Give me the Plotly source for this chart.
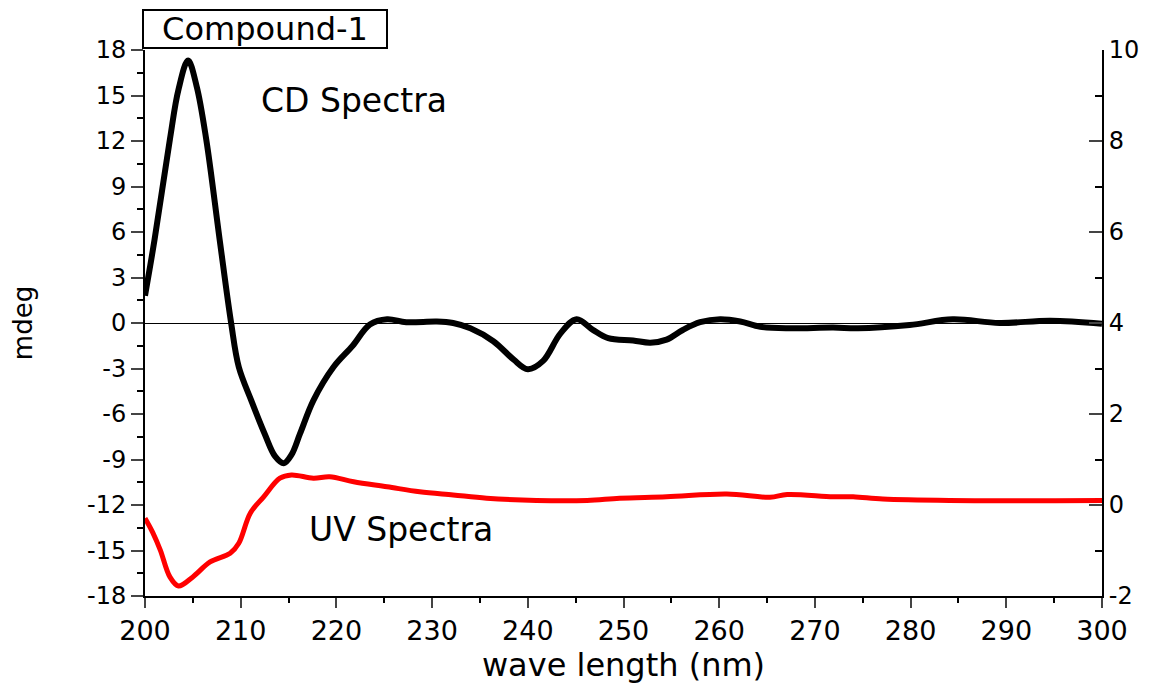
import plotly.graph_objects as go

# CD spectrum (mdeg, left axis)
cd_wl = [200.0, 201.0, 202.6, 203.5, 204.5, 205.4, 206.4, 207.8, 209.0, 209.8, 211.1, 212.5, 213.6,
         214.5, 215.3, 216.2, 217.6, 219.7, 221.7, 223.5, 225.3, 227.3, 230.5, 232.2, 234.0,
         236.4, 238.5, 240.0, 241.6, 243.4, 245.1, 246.8, 248.4, 251.0, 252.8, 254.5, 256.2, 258.0,
         260.1, 262.2, 264.3, 267.4, 271.9, 274.5, 279.9, 284.4, 289.3, 294.6, 300.0]
cd_val = [1.8, 5.5, 12.1, 15.4, 17.3, 15.6, 12.1, 5.5, 0.0, -2.9, -5.1, -7.3, -8.8,
          -9.25, -8.7, -7.3, -5.1, -2.9, -1.5, -0.1, 0.25, 0.05, 0.1, 0.0, -0.35,
          -1.2, -2.4, -3.05, -2.5, -0.7, 0.25, -0.45, -1.0, -1.15, -1.3, -1.1, -0.46, 0.05,
          0.25, 0.1, -0.25, -0.35, -0.3, -0.35, -0.13, 0.24, 0.0, 0.15, -0.05]

# UV spectrum (right axis)
uv_wl = [200.0, 200.8, 201.6, 202.6, 203.5, 205.0, 206.8, 208.9, 209.8, 211.0, 212.4, 214.1, 215.3,
         217.6, 219.3, 221.8, 225.3, 228.7, 232.2, 235.7, 240.9, 246.2, 249.6, 254.5, 260.8,
         265.3, 267.1, 271.9, 274.0, 277.1, 284.1, 300.0]
uv_val = [-0.29, -0.6, -0.99, -1.58, -1.78, -1.58, -1.25, -1.06, -0.84, -0.18, 0.18, 0.59, 0.66,
          0.59, 0.62, 0.51, 0.4, 0.29, 0.22, 0.15, 0.1, 0.1, 0.15, 0.18, 0.24,
          0.17, 0.23, 0.18, 0.18, 0.13, 0.1, 0.1]

left_ticks = [-18, -15, -12, -9, -6, -3, 0, 3, 6, 9, 12, 15, 18]
left_labels = ["-18", "-15", "-12", "-9", "-6", "-3", "0", "3", "6", "9", "12", "15", "18"]
right_ticks = [-2, 0, 2, 4, 6, 8, 10]
right_labels = ["-2", "0", "2", "4", "6", "8", "10"]
x_ticks = [200, 210, 220, 230, 240, 250, 260, 270, 280, 290, 300]

FONT = "DejaVu Sans"

fig = go.Figure()
fig.add_trace(go.Scatter(x=cd_wl, y=cd_val, mode="lines", line=dict(color="black", width=6, shape="spline"),
                         xaxis="x", yaxis="y", showlegend=False))
fig.add_trace(go.Scatter(x=uv_wl, y=uv_val, mode="lines", line=dict(color="#ff0000", width=5, shape="spline"),
                         xaxis="x", yaxis="y2", showlegend=False))

fig.update_layout(
    width=1145, height=678,
    margin=dict(l=137, r=51, t=42, b=90, autoexpand=False),
    paper_bgcolor="white", plot_bgcolor="white",
    font=dict(family=FONT, color="black"),
    xaxis=dict(range=[200, 300], tickvals=x_ticks, ticks="outside", ticklen=10, tickwidth=2,
               showline=True, linewidth=2, linecolor="black", showgrid=False, zeroline=False,
               automargin=False, tickfont=dict(size=27, family=FONT),
               minor=dict(dtick=5, tick0=200, ticks="outside", ticklen=5, tickwidth=2, tickcolor="black", showgrid=False),
               title=dict(text="wave length (nm)", font=dict(size=32, family=FONT), standoff=4)),
    xaxis2=dict(range=[200, 300], overlaying="x", side="top", tickvals=x_ticks, ticks="inside", ticklen=10,
                tickwidth=2, showline=True, linewidth=2, linecolor="black", showticklabels=False,
                showgrid=False, zeroline=False, automargin=False),
    yaxis=dict(range=[-18, 18], tickvals=left_ticks, ticktext=left_labels, ticks="outside", ticklen=12,
               tickwidth=2, showline=True, linewidth=2, linecolor="black", showgrid=False,
               zeroline=True, zerolinecolor="black", zerolinewidth=1, automargin=False,
               tickfont=dict(size=24, family=FONT),
               minor=dict(dtick=1.5, tick0=0, ticks="outside", ticklen=6, tickwidth=2, tickcolor="black", showgrid=False),
               title=dict(text="mdeg", font=dict(size=26, family=FONT), standoff=62)),
    yaxis2=dict(range=[-2, 10], overlaying="y", side="right", tickvals=right_ticks, ticktext=right_labels,
                ticks="inside", ticklen=13, tickwidth=2, showline=True, linewidth=2, linecolor="black",
                showgrid=False, zeroline=False, automargin=False, tickfont=dict(size=24, family=FONT),
                minor=dict(dtick=1, tick0=0, ticks="inside", ticklen=7, tickwidth=2, tickcolor="black", showgrid=False)),
    annotations=[
        dict(text="Compound-1", xref="paper", yref="paper", x=0.1254, y=1.0, xanchor="center", yanchor="bottom",
             showarrow=False, font=dict(size=32, family=FONT, color="black"), bordercolor="black",
             borderwidth=2, borderpad=1, width=240, height=34, bgcolor="white", yshift=1),
        dict(text="CD Spectra", x=221.8, y=14.7, xref="x", yref="y", showarrow=False,
             font=dict(size=33, family=FONT, color="black")),
        dict(text="UV Spectra", x=226.7, y=-13.6, xref="x", yref="y", showarrow=False,
             font=dict(size=33, family=FONT, color="black")),
    ],
)

fig.write_html("out.html")
